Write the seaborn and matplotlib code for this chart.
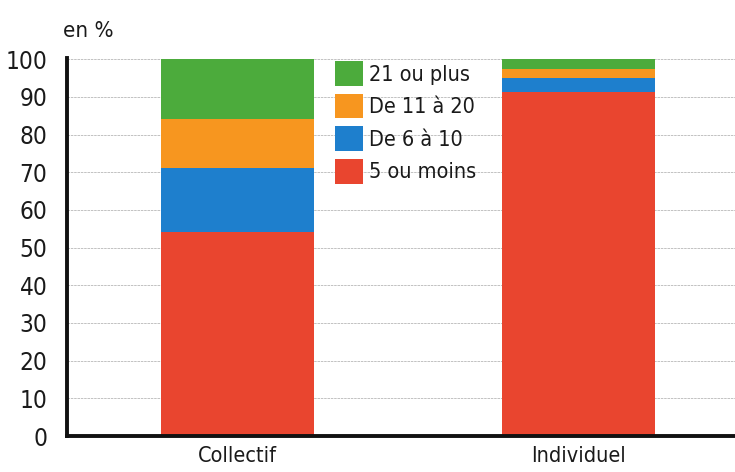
import matplotlib
matplotlib.use("Agg")
import matplotlib.pyplot as plt
import seaborn as sns
import pandas as pd
import numpy as np
from matplotlib.patches import Patch

categories = ["Collectif", "Individuel"]
series_names = ["5 ou moins", "De 6 à 10", "De 11 à 20", "21 ou plus"]
v_5_ou_moins = [54.0, 91.3]
v_6_a_10 = [17.0, 3.7]
v_11_a_20 = [13.0, 2.5]
v_21_ou_plus = [16.0, 2.5]
y_ticks = [0, 10, 20, 30, 40, 50, 60, 70, 80, 90, 100]
colors = ["#e9452f", "#1e7fcd", "#f7961f", "#4cab3c"]

sns.set_theme(style="white")
plt.rcParams["font.family"] = ["DejaVu Sans"]
plt.rcParams["font.stretch"] = "condensed"

fig = plt.figure(figsize=(7.35, 4.72), dpi=100)
ax = fig.add_axes([67 / 735, 1 - 436 / 472, 668 / 735, 378 / 472])

series = [v_5_ou_moins, v_6_a_10, v_11_a_20, v_21_ou_plus]
cum = np.cumsum(np.array(series), axis=0)
for i in range(len(series) - 1, -1, -1):
    df = pd.DataFrame({"cat": categories, "val": cum[i]})
    sns.barplot(data=df, x="cat", y="val", color=colors[i], saturation=1,
                width=0.45, ax=ax, zorder=2, linewidth=0)

ax.set_xlim(-0.5, 1.46)
ax.set_ylim(0, 100.3)
ax.set_yticks(y_ticks)
ax.set_yticklabels([str(t) for t in y_ticks], fontsize=17.5, color="#1a1a1a")
ax.set_xticks([0, 1])
ax.set_xticklabels(categories, fontsize=15.5, color="#1a1a1a")
ax.tick_params(axis="y", length=0, pad=14)
ax.tick_params(axis="x", length=0, pad=7)
ax.set_xlabel("")
ax.set_ylabel("")
for t in y_ticks[1:]:
    ax.axhline(t, color="#b8b8b8", lw=0.6, ls=(0, (3, 1)), zorder=1)
for s in ["top", "right"]:
    ax.spines[s].set_visible(False)
for s in ["left", "bottom"]:
    ax.spines[s].set_color("#111111")
    ax.spines[s].set_linewidth(2.8)
    ax.spines[s].set_zorder(3)

handles = [Patch(facecolor=colors[i], edgecolor="none", label=series_names[i])
           for i in range(len(series_names) - 1, -1, -1)]
leg = ax.legend(handles=handles, loc="upper left",
                bbox_to_anchor=((335 - 67) / 668, (436 - 61) / 378),
                frameon=False, fontsize=15.5, borderaxespad=0, borderpad=0,
                handlelength=1.3, handleheight=1.4, handletextpad=0.3,
                labelspacing=0.36)
for t in leg.get_texts():
    t.set_color("#1a1a1a")

fig.text(63 / 735, 1 - 31 / 472, "en %", fontsize=16, color="#1a1a1a",
         va="center", ha="left")

fig.savefig("out.png", dpi=100)
